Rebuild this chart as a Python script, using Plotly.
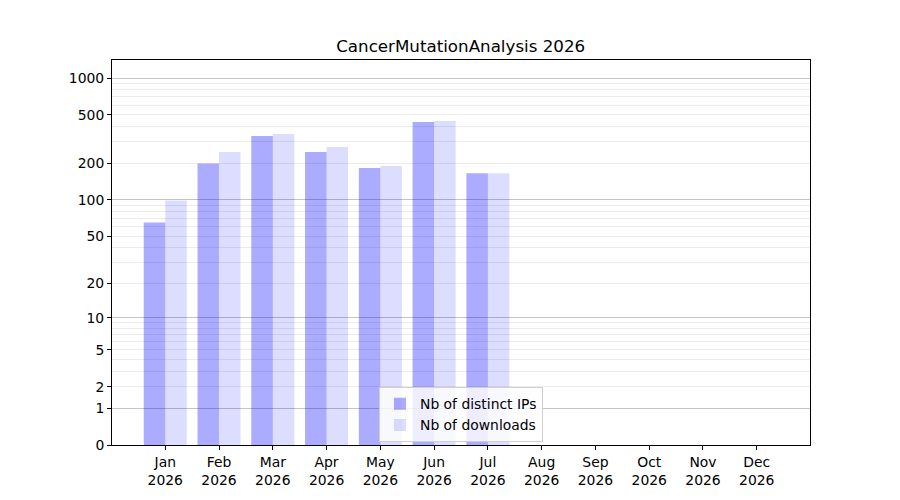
import numpy as np
import plotly.graph_objects as go

TITLE = "CancerMutationAnalysis 2026"
FONT = "DejaVu Sans"

months = ["Jan", "Feb", "Mar", "Apr", "May", "Jun", "Jul", "Aug", "Sep", "Oct", "Nov", "Dec"]
year = "2026"
distinct_ips = [65, 199, 335, 248, 183, 436, 166, 0, 0, 0, 0, 0]
downloads = [99, 248, 348, 272, 190, 445, 166, 0, 0, 0, 0, 0]

major_ticks = [0, 1, 2, 5, 10, 20, 50, 100, 200, 500, 1000]
decade_ticks = [1, 10, 100, 1000]
minor_ticks = [d * k for d in [1, 10, 100] for k in range(2, 10)]


def tr(v):
    # the y axis is log10(1 + y)
    return np.log10(1 + np.asarray(v, dtype=float))


xs = list(range(len(months)))
xlabels = [m + "<br>" + year for m in months]

fig = go.Figure()
fig.add_trace(go.Bar(
    x=xs, y=tr(distinct_ips),
    name="Nb of distinct IPs",
    marker=dict(color="rgba(0,0,255,0.33)", line=dict(width=0)),
))
fig.add_trace(go.Bar(
    x=xs, y=tr(downloads),
    name="Nb of downloads",
    marker=dict(color="rgba(0,0,255,0.133)", line=dict(width=0)),
))
# invisible trace on the overlay axis so its darker grid is drawn
fig.add_trace(go.Scatter(x=[xs[0]], y=[0], yaxis="y2", mode="markers",
                         marker=dict(opacity=0), showlegend=False, hoverinfo="skip"))

yrange = [0, 3.148]

# page body has an 8px margin, so left/top are reduced by 8
fig.update_layout(
    width=900, height=500,
    margin=dict(l=104, r=98, t=52, b=63),
    paper_bgcolor="white", plot_bgcolor="white",
    font=dict(family=FONT, size=13.9, color="black"),
    title=dict(text=TITLE, x=0.503, xanchor="center", y=0.924, yanchor="middle",
               font=dict(size=16.7, color="black")),
    barmode="group", bargap=0.2, bargroupgap=0,
    showlegend=True,
    legend=dict(x=0.5, xanchor="center", y=0.007, yanchor="bottom",
                bgcolor="rgba(255,255,255,0.8)", bordercolor="#d0d0d0", borderwidth=1,
                font=dict(size=13.9), tracegroupgap=0),
    xaxis=dict(
        range=[-0.99, 11.99], tickmode="array", tickvals=xs, ticktext=xlabels,
        showgrid=False, zeroline=False,
        showline=True, linecolor="black", linewidth=1, mirror=True,
        ticks="outside", ticklen=4, tickcolor="black",
    ),
    yaxis=dict(
        range=yrange, tickmode="array", tickvals=tr(major_ticks),
        ticktext=[str(t) for t in major_ticks],
        showgrid=True, gridcolor="#ebebeb", gridwidth=1, zeroline=False,
        showline=True, linecolor="black", linewidth=1, mirror=True,
        ticks="outside", ticklen=4, tickcolor="black",
        minor=dict(tickmode="array", tickvals=tr(minor_ticks), showgrid=True,
                   gridcolor="#ebebeb", gridwidth=1, ticks=""),
    ),
    yaxis2=dict(
        range=yrange, overlaying="y", tickmode="array", tickvals=tr(decade_ticks),
        showticklabels=False, showgrid=True, gridcolor="#c4c4c4", gridwidth=1,
        zeroline=False, showline=False, ticks="",
    ),
)

fig.write_html("out.html")
